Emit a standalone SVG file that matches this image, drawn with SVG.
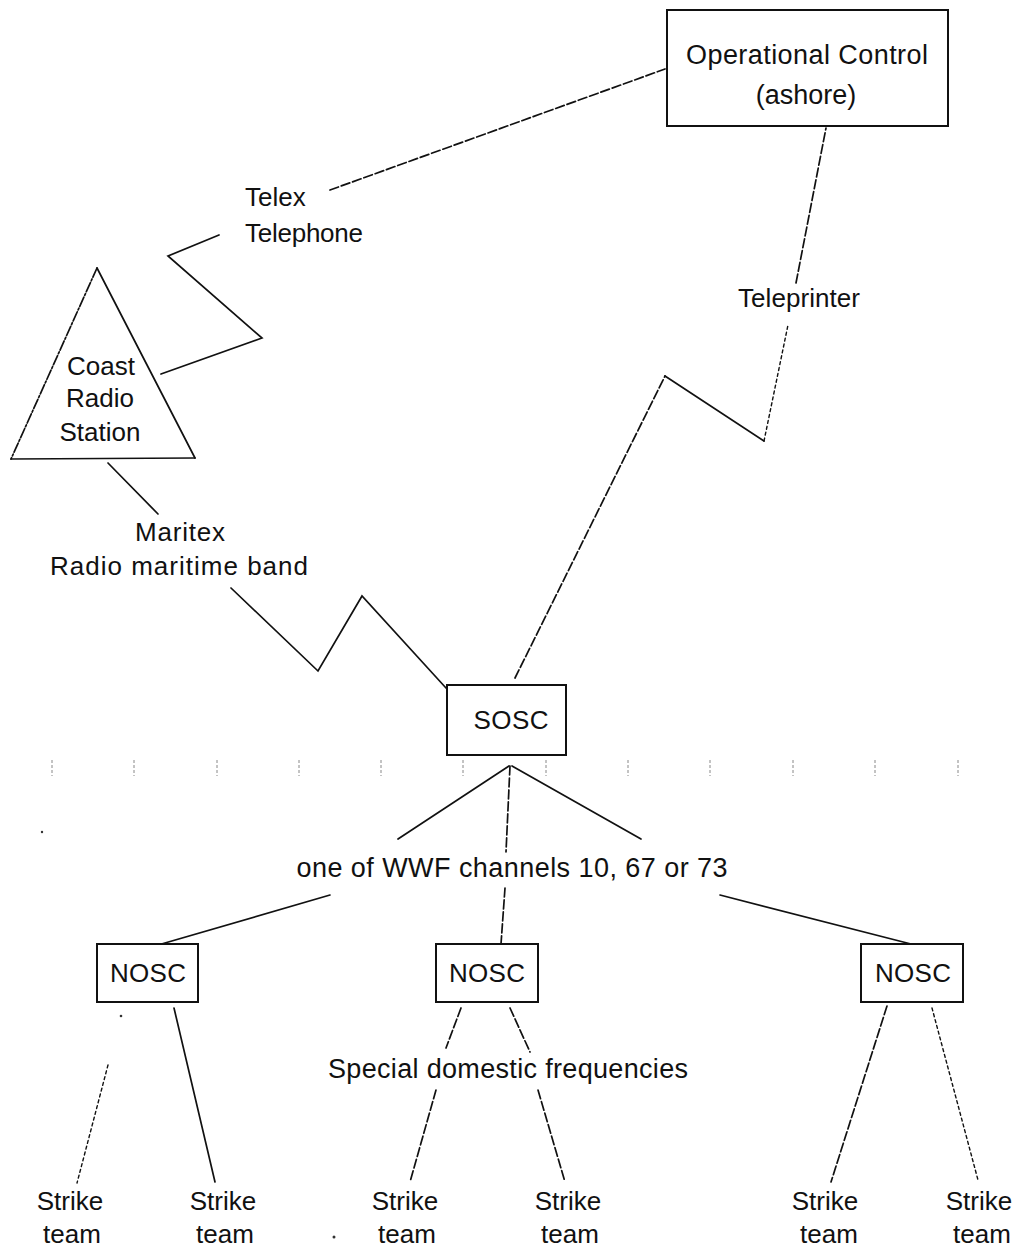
<svg xmlns="http://www.w3.org/2000/svg" width="1020" height="1249" viewBox="0 0 1020 1249">
<style>
  text { font-family: "Liberation Sans", Arial, sans-serif; fill: #111; text-anchor: middle; }
  .lbl { font-size: 26px; }
  .big { font-size: 27px; }
  .box { fill: #fff; stroke: #111; stroke-width: 2; }
  .ln { fill: none; stroke: #111; stroke-width: 1.7; stroke-linecap: round; stroke-linejoin: miter; }
  .dash { stroke-dasharray: 9 3; }
  .dot { stroke-dasharray: 3 3; stroke-width: 1.4; }
  .tick { stroke: #888; stroke-width: 1; stroke-dasharray: 3 2; }
</style>
<rect width="1020" height="1249" fill="#fff"/>

<g id="connectors">
  <path class="ln dash" d="M330,190 L665,69"/>
  <path class="ln" d="M219,235 L168,256 L262,338 L161,374"/>
  <path class="ln" d="M108,463 L158,514"/>
  <path class="ln" d="M231,588 L318,671 L362,596 L446,688"/>
  <path class="ln dash" d="M515,678 L665,376"/>
  <path class="ln" d="M665,376 L764,441"/>
  <path class="ln dot" d="M764,441 L788,325"/>
  <path class="ln dash" d="M796,283 L826,128"/>
  <path class="ln" d="M509,766 L398,839"/>
  <path class="ln" d="M512,766 L641,839"/>
  <path class="ln" d="M330,895 L158,945"/>
  <path class="ln" d="M720,895 L911,944"/>
  <path class="ln dash" d="M510,766 L506,852"/>
  <path class="ln dash" d="M505,888 L501,944"/>
  <path class="ln" d="M174,1008 L215,1182"/>
  <path class="ln dot" d="M108,1065 L77,1183"/>
  <path class="ln dash" d="M461,1008 L446,1048"/>
  <path class="ln dash" d="M436,1090 L410,1182"/>
  <path class="ln dash" d="M510,1008 L530,1052"/>
  <path class="ln dash" d="M538,1090 L565,1182"/>
  <path class="ln dash" d="M887,1006 L831,1182"/>
  <path class="ln dot" d="M932,1008 L978,1180"/>
</g>

<g id="ticks">
  <line class="tick" x1="52" y1="760" x2="52" y2="776"/>
  <line class="tick" x1="134" y1="760" x2="134" y2="776"/>
  <line class="tick" x1="217" y1="760" x2="217" y2="776"/>
  <line class="tick" x1="299" y1="760" x2="299" y2="776"/>
  <line class="tick" x1="381" y1="760" x2="381" y2="776"/>
  <line class="tick" x1="463" y1="760" x2="463" y2="776"/>
  <line class="tick" x1="546" y1="760" x2="546" y2="776"/>
  <line class="tick" x1="628" y1="760" x2="628" y2="776"/>
  <line class="tick" x1="710" y1="760" x2="710" y2="776"/>
  <line class="tick" x1="793" y1="760" x2="793" y2="776"/>
  <line class="tick" x1="875" y1="760" x2="875" y2="776"/>
  <line class="tick" x1="958" y1="760" x2="958" y2="776"/>
  <circle cx="42" cy="832" r="1.2" fill="#333"/>
  <circle cx="121" cy="1016" r="1.3" fill="#333"/>
  <circle cx="334" cy="1237" r="1.5" fill="#333"/>
</g>

<g id="operational-control">
  <rect class="box" x="667" y="10" width="281" height="116"/>
  <text class="big" x="807" y="64" textLength="242" lengthAdjust="spacing">Operational Control</text>
  <text class="big" x="806" y="104">(ashore)</text>
</g>

<g id="telex-label">
  <text class="lbl" x="245" y="206" style="text-anchor:start">Telex</text>
  <text class="lbl" x="245" y="242" style="text-anchor:start" textLength="118" lengthAdjust="spacing">Telephone</text>
</g>

<g id="coast-radio-station">
  <path d="M97,268 L195,458" class="ln"/>
  <path d="M97,268 L11,459" class="ln" stroke-dasharray="10 2 2 2"/>
  <path d="M11,459 L195,458" class="ln" stroke-width="2.6"/>
  <text class="lbl" x="101" y="375">Coast</text>
  <text class="lbl" x="100" y="407">Radio</text>
  <text class="lbl" x="100" y="441">Station</text>
</g>

<g id="maritex-label">
  <text class="lbl" x="180" y="541" textLength="90" lengthAdjust="spacing">Maritex</text>
  <text class="lbl" x="179" y="575" textLength="258" lengthAdjust="spacing">Radio maritime band</text>
</g>

<g id="teleprinter-label">
  <text class="lbl" x="799" y="307" textLength="122" lengthAdjust="spacing">Teleprinter</text>
</g>

<g id="sosc">
  <rect class="box" x="447" y="685" width="119" height="70"/>
  <text class="lbl" x="511" y="729" textLength="75" lengthAdjust="spacing">SOSC</text>
</g>

<g id="wwf-label">
  <text class="big" x="512" y="877" textLength="431" lengthAdjust="spacing">one of WWF channels 10, 67 or 73</text>
</g>

<g id="nosc-left">
  <rect class="box" x="97" y="944" width="101" height="58"/>
  <text class="lbl" x="148" y="982" textLength="76" lengthAdjust="spacing">NOSC</text>
</g>
<g id="nosc-middle">
  <rect class="box" x="436" y="944" width="102" height="58"/>
  <text class="lbl" x="487" y="982" textLength="76" lengthAdjust="spacing">NOSC</text>
</g>
<g id="nosc-right">
  <rect class="box" x="861" y="944" width="102" height="58"/>
  <text class="lbl" x="913" y="982" textLength="76" lengthAdjust="spacing">NOSC</text>
</g>

<g id="special-label">
  <text class="big" x="508" y="1078" textLength="360" lengthAdjust="spacing">Special domestic frequencies</text>
</g>

<g id="strike-team-1"><text class="lbl" x="70" y="1210">Strike</text><text class="lbl" x="72" y="1243">team</text></g>
<g id="strike-team-2"><text class="lbl" x="223" y="1210">Strike</text><text class="lbl" x="225" y="1243">team</text></g>
<g id="strike-team-3"><text class="lbl" x="405" y="1210">Strike</text><text class="lbl" x="407" y="1243">team</text></g>
<g id="strike-team-4"><text class="lbl" x="568" y="1210">Strike</text><text class="lbl" x="570" y="1243">team</text></g>
<g id="strike-team-5"><text class="lbl" x="825" y="1210">Strike</text><text class="lbl" x="829" y="1243">team</text></g>
<g id="strike-team-6"><text class="lbl" x="979" y="1210">Strike</text><text class="lbl" x="982" y="1243">team</text></g>
</svg>
